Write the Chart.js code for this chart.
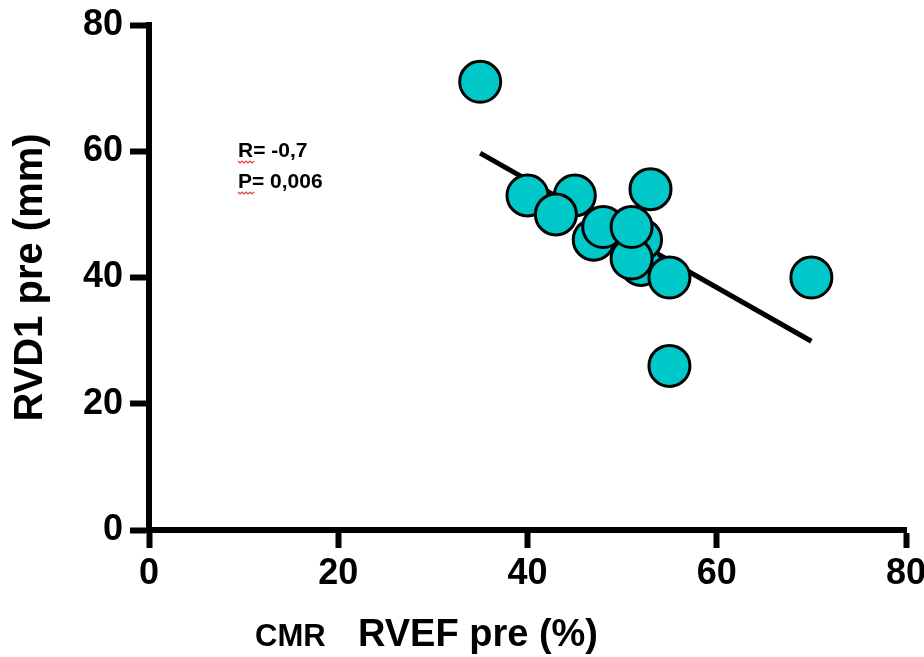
<!DOCTYPE html>
<html>
<head>
<meta charset="utf-8">
<script src="https://cdn.jsdelivr.net/npm/chart.js@4.4.1/dist/chart.umd.min.js"></script>
<style>
  html, body { margin: 0; padding: 0; background: #fff; }
  #wrap { width: 924px; height: 657px; }
</style>
</head>
<body>
<div id="wrap"><canvas id="c" width="924" height="657"></canvas></div>
<script>
// Data (RVEF pre %, RVD1 pre mm); listed back-to-front
const rvefPre = [35, 40, 45, 43, 53, 52, 52, 51, 47, 48, 51, 55, 70, 55];
const rvd1Pre = [71, 53, 53, 50, 54, 42, 46, 43, 46, 48, 48, 40, 40, 26];
// Regression line end points
const fitX = [35, 70];
const fitY = [59.7, 29.9];
// Axis ticks
const xTicks = [0, 20, 40, 60, 80];
const yTicks = [0, 20, 40, 60, 80];
// Texts
const xTitle = "RVEF pre (%)";
const xPrefix = "CMR";
const yTitle = "RVD1 pre (mm)";
const statLines = ["R= -0,7", "P= 0,006"];

const FONT = "'Liberation Sans', Arial, sans-serif";

const points = rvefPre.map((x, i) => ({ x: x, y: rvd1Pre[i] }));
const fitPts = fitX.map((x, i) => ({ x: x, y: fitY[i] }));

const textPlugin = {
  id: 'texts',
  afterDraw(chart) {
    const ctx = chart.ctx;
    const ca = chart.chartArea;
    ctx.save();
    ctx.fillStyle = '#000';
    // Y title
    ctx.save();
    ctx.translate(31, (ca.top + ca.bottom) / 2);
    ctx.rotate(-Math.PI / 2);
    ctx.font = "bold 40px " + FONT;
    ctx.textAlign = 'center';
    ctx.textBaseline = 'middle';
    ctx.fillText(yTitle, 0, 0);
    ctx.restore();
    // X titles
    ctx.textBaseline = 'alphabetic';
    ctx.textAlign = 'left';
    ctx.font = "bold 31px " + FONT;
    ctx.fillText(xPrefix, 255, 646);
    ctx.font = "bold 38px " + FONT;
    ctx.fillText(xTitle, 358, 646);
    // stats annotation
    ctx.font = "bold 21px " + FONT;
    const sx = 238;
    const baseY = [157, 188];
    statLines.forEach((t, i) => {
      ctx.fillText(t, sx, baseY[i]);
      ctx.beginPath();
      ctx.strokeStyle = '#e04040';
      ctx.lineWidth = 1.2;
      let x0 = sx, y0 = baseY[i] + 4;
      ctx.moveTo(x0, y0);
      for (let k = 1; k <= 8; k++) {
        ctx.lineTo(x0 + k * 2, y0 + (k % 2 ? 2 : 0));
      }
      ctx.stroke();
    });
    ctx.restore();
  }
};

new Chart(document.getElementById('c'), {
  data: {
    datasets: [
      {
        type: 'scatter',
        data: points,
        backgroundColor: '#00C8C8',
        borderColor: '#000',
        borderWidth: 3,
        pointRadius: 20.5,
        pointHoverRadius: 20.5,
        order: 0
      },
      {
        type: 'line',
        data: fitPts,
        borderColor: '#000',
        borderWidth: 5,
        pointRadius: 0,
        fill: false,
        order: 1
      }
    ]
  },
  options: {
    responsive: false,
    animation: false,
    events: [],
    layout: { autoPadding: false, padding: { left: 0, right: 18, top: 25, bottom: 0 } },
    plugins: { legend: { display: false }, tooltip: { enabled: false } },
    scales: {
      x: {
        type: 'linear',
        min: 0, max: 80,
        afterBuildTicks(s) { s.ticks = xTicks.map(v => ({ value: v })); },
        afterFit(s) { s.height = 127; s.paddingLeft = 0; s.paddingRight = 0; },
        border: { display: true, color: '#000', width: 6 },
        grid: { drawOnChartArea: false, drawTicks: true, tickLength: 18, tickWidth: 6, tickColor: '#000', color: '#000' },
        ticks: { color: '#000', padding: 4, maxRotation: 0, font: { family: FONT, size: 36, weight: 'bold' } },
        title: { display: false }
      },
      y: {
        type: 'linear',
        min: 0, max: 80,
        afterBuildTicks(s) { s.ticks = yTicks.map(v => ({ value: v })); },
        afterFit(s) { s.width = 149; s.paddingTop = 0; s.paddingBottom = 0; },
        border: { display: true, color: '#000', width: 6 },
        grid: { drawOnChartArea: false, drawTicks: true, tickLength: 19, tickWidth: 6, tickColor: '#000', color: '#000' },
        ticks: { color: '#000', padding: 7, font: { family: FONT, size: 36, weight: 'bold' } },
        title: { display: false }
      }
    }
  },
  plugins: [textPlugin]
});
</script>
</body>
</html>
